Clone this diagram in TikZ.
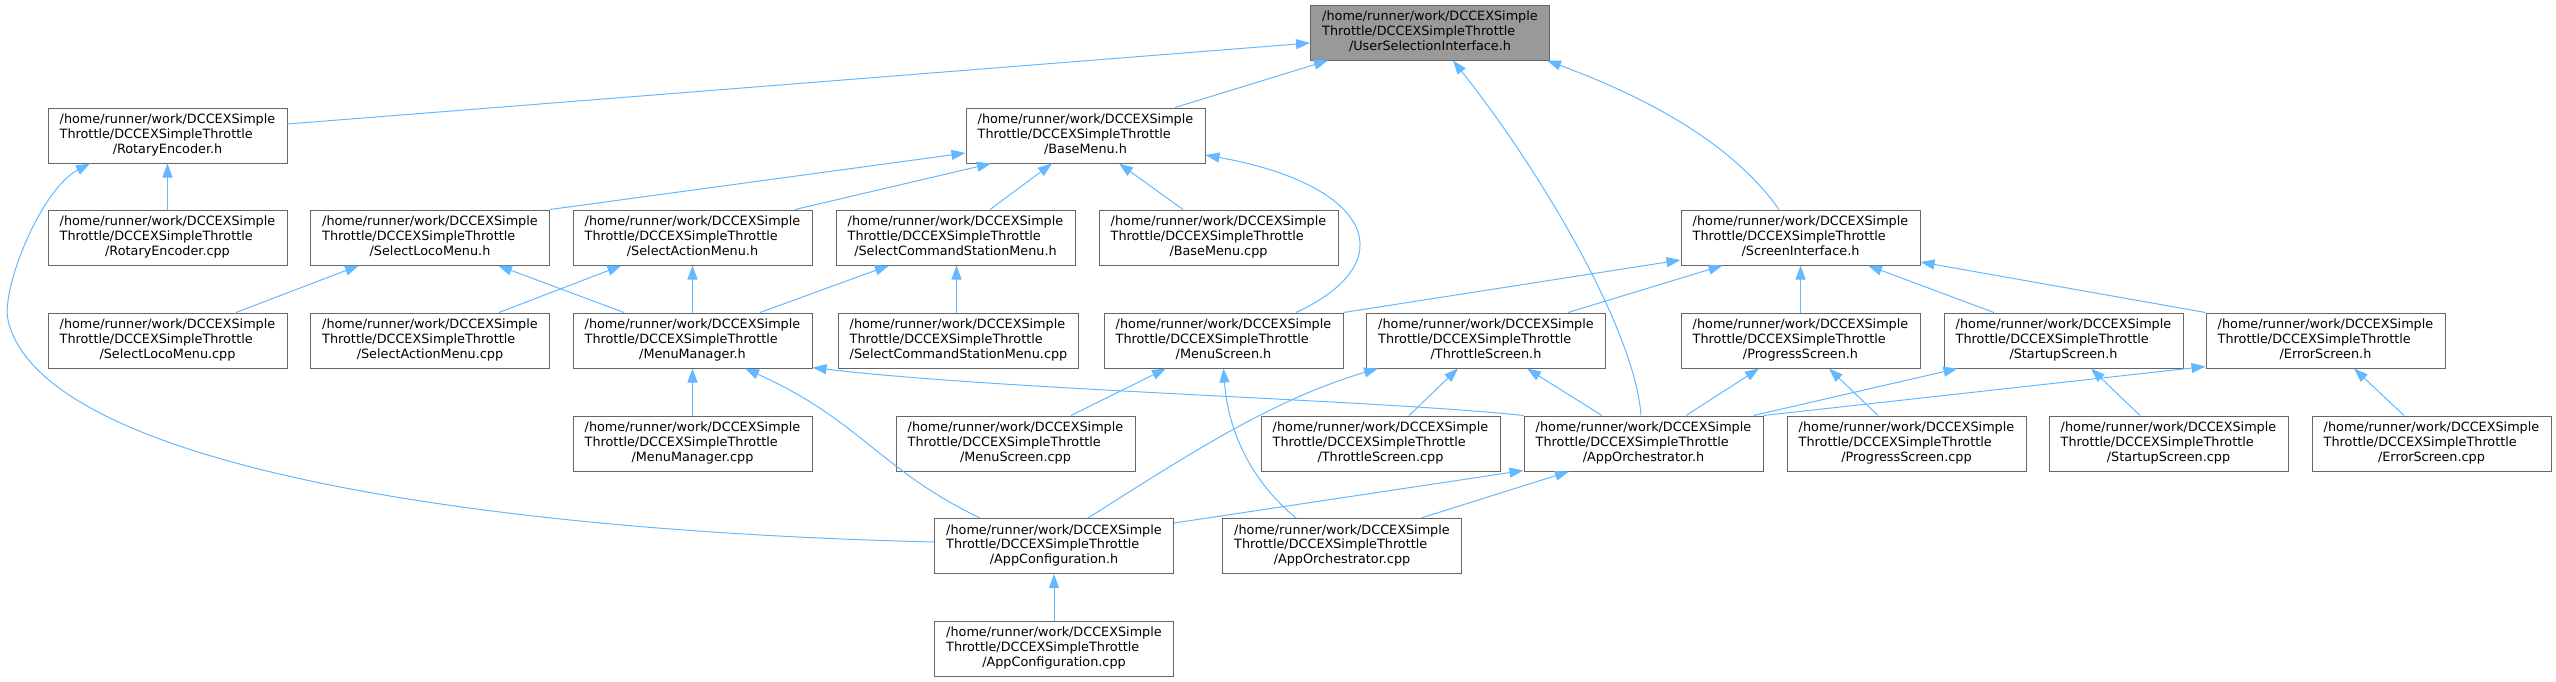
\documentclass[tikz,border=0pt]{standalone}
\usepackage{fontspec}
\setmainfont{DejaVu Sans}
\usetikzlibrary{arrows.meta,calc}
\definecolor{edgeblue}{HTML}{63B8FF}
\definecolor{nodeborder}{HTML}{666666}
\definecolor{rootfill}{HTML}{999999}
\newcommand\dlbl[1]{\begin{tabular}{@{}l@{}}/home/runner/work/DCCEXSimple\\Throttle/DCCEXSimpleThrottle\\\multicolumn{1}{@{}c@{}}{#1}\end{tabular}}
\begin{document}
\begin{tikzpicture}[x=0.5pt,y=-0.5pt,
 filebox/.style={draw=nodeborder, fill=white, line width=0.5pt, minimum width=119.5pt, minimum height=27.5pt, inner xsep=5.8pt, inner ysep=0pt, font=\fontsize{6.4}{7.33}\selectfont},
 rootbox/.style={filebox, fill=rootfill},
 dep/.style={draw=edgeblue, line width=0.5pt, -{Triangle[length=7pt,width=5pt]}}]
\useasboundingbox (0,0) rectangle (2556,681);
% row 0
\node[rootbox] (usi) at (1430,32.5) {\dlbl{/UserSelectionInterface.h}};
% row 1
\node[filebox] (re) at (167.5,135.5) {\dlbl{/RotaryEncoder.h}};
\node[filebox] (bm) at (1085.5,135.5) {\dlbl{/BaseMenu.h}};
% row 2
\node[filebox] (rec) at (167.5,237.5) {\dlbl{/RotaryEncoder.cpp}};
\node[filebox] (slm) at (430,237.5) {\dlbl{/SelectLocoMenu.h}};
\node[filebox] (sam) at (692.5,237.5) {\dlbl{/SelectActionMenu.h}};
\node[filebox] (scsm) at (955.5,237.5) {\dlbl{/SelectCommandStationMenu.h}};
\node[filebox] (bmc) at (1218.5,237.5) {\dlbl{/BaseMenu.cpp}};
\node[filebox] (si) at (1800.5,237.5) {\dlbl{/ScreenInterface.h}};
% row 3
\node[filebox] (slmc) at (167.5,340.5) {\dlbl{/SelectLocoMenu.cpp}};
\node[filebox] (samc) at (430,340.5) {\dlbl{/SelectActionMenu.cpp}};
\node[filebox] (mm) at (692.5,340.5) {\dlbl{/MenuManager.h}};
\node[filebox] (scsmc) at (958.5,340.5) {\dlbl{/SelectCommandStationMenu.cpp}};
\node[filebox] (ms) at (1223.5,340.5) {\dlbl{/MenuScreen.h}};
\node[filebox] (ts) at (1486,340.5) {\dlbl{/ThrottleScreen.h}};
\node[filebox] (ps) at (1800.5,340.5) {\dlbl{/ProgressScreen.h}};
\node[filebox] (ss) at (2063.5,340.5) {\dlbl{/StartupScreen.h}};
\node[filebox] (es) at (2325.5,340.5) {\dlbl{/ErrorScreen.h}};
% row 4
\node[filebox] (mmc) at (692.5,443.5) {\dlbl{/MenuManager.cpp}};
\node[filebox] (msc) at (1015.5,443.5) {\dlbl{/MenuScreen.cpp}};
\node[filebox] (tsc) at (1380.5,443.5) {\dlbl{/ThrottleScreen.cpp}};
\node[filebox] (ao) at (1643.5,443.5) {\dlbl{/AppOrchestrator.h}};
\node[filebox] (psc) at (1906.5,443.5) {\dlbl{/ProgressScreen.cpp}};
\node[filebox] (ssc) at (2168.5,443.5) {\dlbl{/StartupScreen.cpp}};
\node[filebox] (esc) at (2431.5,443.5) {\dlbl{/ErrorScreen.cpp}};
% row 5
\node[filebox] (ac) at (1054,546) {\dlbl{/AppConfiguration.h}};
\node[filebox] (aoc) at (1342,546) {\dlbl{/AppOrchestrator.cpp}};
% row 6
\node[filebox] (acc) at (1054,648.5) {\dlbl{/AppConfiguration.cpp}};
% edges
\draw[dep] ($(re.east)+(0,-11.5)$) -- ($(usi.west)+(0,10.5)$);
\draw[dep] ($(bm.north)+(89.5,0)$) -- ($(usi.south)+(-102,0)$);
\draw[dep] ($(ao.north)+(-2.5,0)$) .. controls (1635,330) and (1540,170) .. ($(usi.south)+(23,0)$);
\draw[dep] ($(si.north)+(-21.5,0)$) .. controls (1730,140) and (1640,95) .. ($(usi.south)+(117,0)$);
\draw[dep] (rec.north) -- (re.south);
\draw[dep] ($(ac.west)+(0,-4)$) .. controls (450,530) and (40,460) .. (8,320) .. controls (1,290) and (40,190) .. ($(re.south)+(-77.5,0)$);
\draw[dep] (slm.north east) -- ($(bm.west)+(0,17.5)$);
\draw[dep] ($(sam.north)+(102.5,0)$) -- ($(bm.south)+(-94.5,0)$);
\draw[dep] ($(scsm.north)+(34.5,0)$) -- ($(bm.south)+(-33.5,0)$);
\draw[dep] ($(bmc.north)+(-35.5,0)$) -- ($(bm.south)+(33.5,0)$);
\draw[dep] ($(ms.north)+(72.5,0)$) .. controls (1405,262) and (1372,185) .. ($(bm.east)+(0,19.5)$);
\draw[dep] ($(slmc.north)+(68.5,0)$) -- ($(slm.south)+(-71,0)$);
\draw[dep] ($(mm.north)+(-68.5,0)$) -- ($(slm.south)+(68,0)$);
\draw[dep] ($(samc.north)+(69,0)$) -- ($(sam.south)+(-71,0)$);
\draw[dep] (mm.north) -- (sam.south);
\draw[dep] ($(mm.north)+(67.5,0)$) -- ($(scsm.south)+(-66.5,0)$);
\draw[dep] ($(scsmc.north)+(-2,0)$) -- ($(scsm.south)+(1,0)$);
\draw[dep] (ms.north east) -- ($(si.west)+(0,22.5)$);
\draw[dep] ($(ts.north)+(82,0)$) -- ($(si.south)+(-78,0)$);
\draw[dep] (ps.north) -- (si.south);
\draw[dep] ($(ss.north)+(-69.5,0)$) -- ($(si.south)+(67.5,0)$);
\draw[dep] (es.north west) -- ($(si.east)+(0,24.5)$);
\draw[dep] (mmc.north) -- (mm.south);
\draw[dep] ($(ac.north)+(-74,0)$) .. controls (880,470) and (860,420) .. ($(mm.south)+(52.5,0)$);
\draw[dep] (ao.north west) .. controls (1380,400) and (1000,390) .. ($(mm.south east)+(0,-1)$);
\draw[dep] ($(msc.north)+(55.5,0)$) -- ($(ms.south)+(-57.5,0)$);
\draw[dep] ($(aoc.north)+(-46,0)$) .. controls (1250,480) and (1228,430) .. (ms.south);
\draw[dep] ($(tsc.north)+(28.5,0)$) -- ($(ts.south)+(-28,0)$);
\draw[dep] ($(ao.north)+(-41.5,0)$) -- ($(ts.south)+(41,0)$);
\draw[dep] ($(ac.north)+(34,0)$) .. controls (1180,460) and (1270,400) .. ($(ts.south)+(-108,0)$);
\draw[dep] ($(ao.north)+(42.5,0)$) -- ($(ps.south)+(-41.5,0)$);
\draw[dep] ($(psc.north)+(-28.5,0)$) -- ($(ps.south)+(28.5,0)$);
\draw[dep] ($(ao.north east)+(-10,0)$) -- ($(ss.south)+(-106,0)$);
\draw[dep] ($(ssc.north)+(-28.5,0)$) -- ($(ss.south)+(27.5,0)$);
\draw[dep] (ao.north east) -- ($(es.west)+(0,26)$);
\draw[dep] ($(esc.north)+(-27.5,0)$) -- ($(es.south)+(28.5,0)$);
\draw[dep] ($(aoc.north)+(79,0)$) -- ($(ao.south)+(-74.5,0)$);
\draw[dep] ($(ac.north east)+(0,5)$) -- ($(ao.south west)+(0,-1)$);
\draw[dep] (acc.north) -- (ac.south);
\end{tikzpicture}
\end{document}
